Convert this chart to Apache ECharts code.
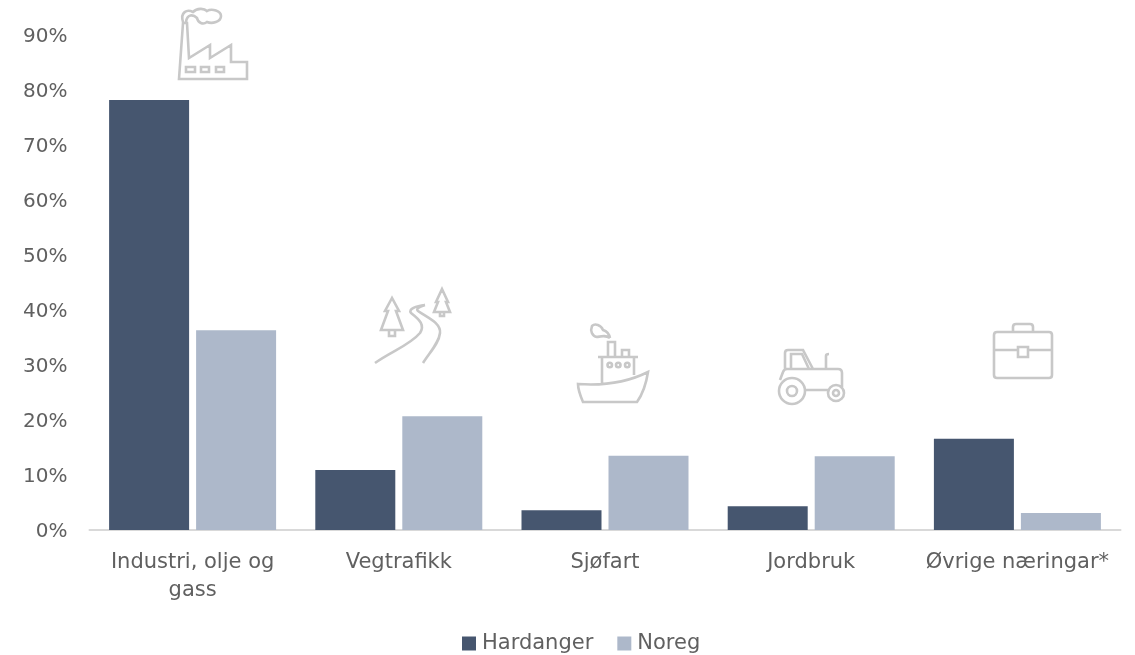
<!DOCTYPE html>
<html>
<head>
<meta charset="utf-8">
<style>
html, body { margin: 0; padding: 0; background: #fff; }
#chart { width: 1135px; height: 655px; }
</style>
<script src="https://cdn.jsdelivr.net/npm/echarts@6/dist/echarts.min.js"></script>
</head>
<body>
<div id="chart"></div>
<script>
var categories = ['Industri, olje og\ngass', 'Vegtrafikk', 'Sjøfart', 'Jordbruk', 'Øvrige næringar*'];
var hardanger = [78.2, 10.9, 3.6, 4.3, 16.6];
var noreg = [36.3, 20.7, 13.5, 13.4, 3.1];

var textColor = '#606060';
var fontName = '"DejaVu Sans", sans-serif';

// ikon teikna for hand, i pikslar paa sida
var iconFactory = 'M179,79 L183,23 L187,23 L189,58 L210,45 L210,58 L231,45 L231,62 L247,62 L247,79 Z' +
    ' M186,67 H195 V72 H186 Z M201,67 H209 V72 H201 Z M216,67 H224 V72 H216 Z' +
    ' M183,22 C180,12 187,9 193,12 C197,8 204,8 207,11 C212,8 221,11 221,16 C221,22 212,24 207,22 C203,25 198,23 197,18 C193,14 187,14 186,22';
var iconRoad = 'M392,298 L385,311 L388,311 L381,330 L403,330 L396,311 L399,311 Z M389,330 V336 H395 V330' +
    ' M442,289 L436,302 L438,302 L434,312 L450,312 L446,302 L448,302 Z M440,312 V316 H444 V312' +
    ' M375,363 C392,351 410,345 420,333 C425,325 420,320 411,313 C408,309 416,306 425,305' +
    ' M425,305 C418,307 416,309 418,311 C428,318 441,323 440,333 C439,343 430,352 423,363';
var iconShip = 'M578,384 C605,386 630,381 648,372 C646,385 642,395 637,402 L583,402 C580,395 578,390 578,384 Z' +
    ' M598,357 H638 M602,357 V383 M634,357 V375 M608,357 V342 H615 V357 M622,357 V350 H629 V357' +
    ' M610,338 C606,335 602,336 597,337 C592,336 590,331 592,326 C595,323 601,325 603,330 C606,331 609,333 610,338' +
    ' M607.5,365 A2.2,2.2 0 1 1 612,365 A2.2,2.2 0 1 1 607.5,365 Z' +
    ' M616,365 A2.2,2.2 0 1 1 620.5,365 A2.2,2.2 0 1 1 616,365 Z' +
    ' M625,365 A2.2,2.2 0 1 1 629.5,365 A2.2,2.2 0 1 1 625,365 Z';
var iconTractor = 'M785,369 V353 Q785,350 788,350 H803 L813,369 M791,369 V354 H802 L809,369' +
    ' M780,380 L783,372 Q784,369 787,369 H838 Q842,369 842,373 V389' +
    ' M826,369 V356 Q826,354 829,354' +
    ' M805,390 H828' +
    ' M779,391 A13,13 0 1 1 805,391 A13,13 0 1 1 779,391 Z M787,391 A5,5 0 1 1 797,391 A5,5 0 1 1 787,391 Z' +
    ' M828,393 A8,8 0 1 1 844,393 A8,8 0 1 1 828,393 Z M833,393 A3,3 0 1 1 839,393 A3,3 0 1 1 833,393 Z';
var iconCase = 'M997,332 H1049 Q1052,332 1052,335 V375 Q1052,378 1049,378 H997 Q994,378 994,375 V335 Q994,332 997,332 Z' +
    ' M994,350 H1018 M1028,350 H1052 M1018,347 H1028 V357 H1018 Z' +
    ' M1013,332 V327 Q1013,324 1016,324 H1030 Q1033,324 1033,327 V332';
var icons = [iconFactory, iconRoad, iconShip, iconTractor, iconCase];

var chart = echarts.init(document.getElementById('chart'));
chart.setOption({
    animation: false,
    backgroundColor: '#fff',
    color: ['#46566f', '#adb8ca'],
    grid: { left: 89.5, right: 14.5, top: 35, bottom: 125, containLabel: false },
    legend: {
        data: ['Hardanger', 'Noreg'],
        left: 457,
        top: 628,
        itemWidth: 14,
        itemHeight: 14,
        itemGap: 24,
        icon: 'rect',
        textStyle: { color: textColor, fontSize: 21, fontFamily: fontName, padding: [0, 0, 0, 1] }
    },
    xAxis: {
        type: 'category',
        data: categories,
        axisTick: { show: false },
        axisLine: { lineStyle: { color: '#d9d9d9', width: 2 } },
        axisLabel: {
            color: textColor,
            fontSize: 21,
            fontFamily: fontName,
            lineHeight: 28,
            margin: 19,
            interval: 0
        }
    },
    yAxis: {
        type: 'value',
        min: 0,
        max: 90,
        interval: 10,
        axisLine: { show: false },
        axisTick: { show: false },
        splitLine: { show: false },
        axisLabel: {
            color: textColor,
            fontSize: 20,
            fontFamily: fontName,
            margin: 22,
            formatter: function (v) { return '{a|' + v + '%}'; },
            rich: {
                a: { color: textColor, fontSize: 20, fontFamily: fontName, padding: [4, 0, 0, 0] }
            }
        }
    },
    series: [
        { name: 'Hardanger', type: 'bar', data: hardanger, barWidth: 80, barGap: '8.75%' },
        { name: 'Noreg', type: 'bar', data: noreg, barWidth: 80, barGap: '8.75%' },
        {
            name: 'ikon',
            type: 'custom',
            coordinateSystem: 'none',
            silent: true,
            data: [0, 1, 2, 3, 4],
            renderItem: function (params) {
                return {
                    type: 'path',
                    shape: { pathData: icons[params.dataIndex] },
                    style: { fill: null, stroke: '#c8c8c8', lineWidth: 2.6 }
                };
            }
        }
    ]
});
</script>
</body>
</html>
